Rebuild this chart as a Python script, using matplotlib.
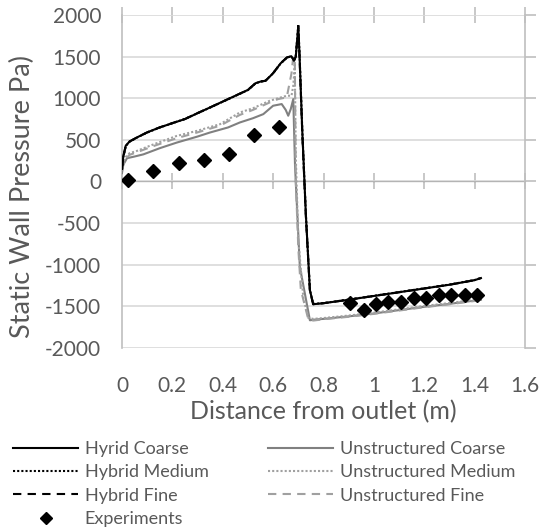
import matplotlib
matplotlib.use("Agg")
import matplotlib.pyplot as plt

# ================= DATA =================
hyb_coarse_x = [0.0, 0.005, 0.015, 0.03, 0.06, 0.1, 0.15, 0.2, 0.25, 0.3, 0.35, 0.4, 0.45, 0.5,
                0.53, 0.55, 0.57, 0.6, 0.63, 0.655, 0.672, 0.683, 0.69, 0.70, 0.705, 0.716, 0.73,
                0.746, 0.759, 0.8, 0.9, 1.0, 1.1, 1.2, 1.3, 1.4, 1.425]
hyb_coarse_y = [150, 300, 430, 480, 530, 590, 650, 700, 750, 820, 890, 960, 1030, 1100,
                1180, 1200, 1210, 1300, 1420, 1490, 1505, 1455, 1500, 1860, 1500, 588, -400,
                -1305, -1474, -1462, -1420, -1375, -1330, -1285, -1240, -1185, -1160]

hyb_medium_x = [0.0, 0.005, 0.015, 0.03, 0.06, 0.1, 0.15, 0.2, 0.25, 0.3, 0.35, 0.4, 0.45, 0.5,
                0.53, 0.55, 0.57, 0.6, 0.63, 0.655, 0.672, 0.683, 0.69, 0.70, 0.705, 0.716, 0.73,
                0.746, 0.759, 0.8, 0.9, 1.0, 1.1, 1.2, 1.3, 1.4, 1.425]
hyb_medium_y = [140, 290, 425, 478, 528, 588, 648, 700, 752, 820, 888, 958, 1028, 1098,
                1178, 1200, 1212, 1300, 1418, 1488, 1503, 1455, 1510, 1890, 1520, 600, -390,
                -1300, -1470, -1460, -1418, -1373, -1328, -1283, -1238, -1183, -1158]

hyb_fine_x = [0.0, 0.005, 0.015, 0.03, 0.06, 0.1, 0.15, 0.2, 0.25, 0.3, 0.35, 0.4, 0.45, 0.5,
              0.53, 0.55, 0.57, 0.6, 0.63, 0.655, 0.672, 0.683, 0.69, 0.70, 0.705, 0.716, 0.73,
              0.746, 0.759, 0.8, 0.9, 1.0, 1.1, 1.2, 1.3, 1.4, 1.425]
hyb_fine_y = [145, 295, 428, 480, 530, 590, 650, 702, 750, 822, 890, 960, 1030, 1100,
              1180, 1200, 1210, 1302, 1420, 1490, 1505, 1450, 1500, 1850, 1480, 560, -420,
              -1310, -1474, -1462, -1420, -1375, -1330, -1285, -1240, -1185, -1160]

uns_coarse_x = [0.0, 0.005, 0.02, 0.05, 0.085, 0.15, 0.217, 0.3, 0.349, 0.421, 0.468, 0.52, 0.561,
                0.6, 0.634, 0.65, 0.66, 0.67, 0.68, 0.687, 0.706, 0.746, 0.76, 0.8, 0.9, 1.0, 1.1,
                1.2, 1.3, 1.4, 1.425]
uns_coarse_y = [100, 200, 280, 300, 326, 400, 467, 540, 588, 649, 709, 760, 809,
                910, 930, 860, 790, 870, 990, 185, -1023, -1667, -1660, -1650, -1620, -1585, -1545,
                -1505, -1470, -1430, -1420]

uns_medium_x = [0.0, 0.01, 0.03, 0.058, 0.12, 0.217, 0.3, 0.389, 0.468, 0.52, 0.587, 0.62, 0.654,
                0.673, 0.68, 0.686, 0.69, 0.70, 0.72, 0.74, 0.76, 0.8, 0.9, 1.0, 1.1, 1.2, 1.3,
                1.4, 1.425]
uns_medium_y = [150, 280, 340, 366, 440, 547, 610, 688, 829, 880, 970, 1000, 1030,
                1030, 1150, 1400, 300, -700, -1400, -1640, -1650, -1640, -1610, -1575, -1535,
                -1495, -1460, -1420, -1410]

uns_fine_x = [0.0, 0.01, 0.03, 0.058, 0.12, 0.217, 0.3, 0.389, 0.468, 0.52, 0.587, 0.62, 0.654,
              0.673, 0.68, 0.686, 0.69, 0.70, 0.71, 0.74, 0.76, 0.8, 0.9, 1.0, 1.1, 1.2, 1.3,
              1.4, 1.425]
uns_fine_y = [130, 260, 320, 350, 420, 520, 590, 670, 800, 860, 950, 990, 1010,
              1300, 1500, 1480, 0, -800, -1300, -1660, -1670, -1655, -1625, -1590, -1550,
              -1510, -1475, -1435, -1425]

exp_x = [0.025, 0.124, 0.226, 0.325, 0.425, 0.525, 0.624,
         0.905, 0.962, 1.01, 1.057, 1.108, 1.159, 1.206, 1.258, 1.308, 1.361, 1.41]
exp_y = [12, 125, 225, 254, 326, 556, 660,
         -1465, -1546, -1474, -1453, -1453, -1401, -1405, -1361, -1361, -1365, -1365]

x_ticks = [0, 0.2, 0.4, 0.6, 0.8, 1.0, 1.2, 1.4, 1.6]
x_tick_labels = ["0", "0.2", "0.4", "0.6", "0.8", "1", "1.2", "1.4", "1.6"]
y_ticks = [-2000, -1500, -1000, -500, 0, 500, 1000, 1500, 2000]

# ================= STYLE =================
plt.rcParams['font.family'] = ['Lato', 'DejaVu Sans']
plt.rcParams['axes.unicode_minus'] = False
TEXT = '#595959'
GRID = '#d9d9d9'
AXIS = '#bfbfbf'
GRAY = '#808080'
LIGHT_GRAY = '#a0a0a0'

fig = plt.figure(figsize=(5.58, 5.31), dpi=100)
ax = fig.add_axes([0.2186, 0.3446, 0.7223, 0.6272])

ax.plot(uns_coarse_x, uns_coarse_y, color=GRAY, lw=1.5, label='Unstructured Coarse', zorder=3)
ax.plot(uns_medium_x, uns_medium_y, color=LIGHT_GRAY, lw=1.5, ls=(0, (1, 1)),
        label='Unstructured Medium', zorder=3)
ax.plot(uns_fine_x, uns_fine_y, color=LIGHT_GRAY, lw=1.5, ls=(0, (4, 3)),
        label='Unstructured Fine', zorder=3)
ax.plot(hyb_fine_x, hyb_fine_y, color='black', lw=1.5, ls=(0, (4, 3)), label='Hybrid Fine', zorder=4)
ax.plot(hyb_medium_x, hyb_medium_y, color='black', lw=1.5, ls=(0, (1, 1)),
        label='Hybrid Medium', zorder=4)
ax.plot(hyb_coarse_x, hyb_coarse_y, color='black', lw=1.5, label='Hyrid Coarse', zorder=4)
ax.plot(exp_x, exp_y, ls='none', marker='D', ms=7.5, color='black', label='Experiments', zorder=5)

ax.set_xlim(0, 1.6)
ax.set_ylim(-2000, 2000)
ax.set_xticks(x_ticks)
ax.set_xticklabels(x_tick_labels)
ax.set_yticks(y_ticks)
ax.yaxis.grid(True, color=GRID, lw=1.2, zorder=0)
ax.set_axisbelow(True)

for side in ['top', 'bottom']:
    ax.spines[side].set_visible(False)
for side in ['left', 'right']:
    ax.spines[side].set_color(AXIS)
    ax.spines[side].set_linewidth(1.2)
ax.tick_params(axis='both', length=0, labelsize=15, labelcolor=TEXT)
ax.tick_params(axis='y', pad=15)
ax.tick_params(axis='x', pad=20)

# horizontal axis crosses at y = 0, with tick marks crossing it
zero_ax = ax.secondary_xaxis(0.5)
zero_ax.set_xticks(x_ticks)
zero_ax.set_xticklabels([])
zero_ax.tick_params(direction='inout', length=12, color=AXIS, width=1.2)
zero_ax.spines['bottom'].set_color(AXIS)
zero_ax.spines['bottom'].set_linewidth(1.2)

top_ax = ax.secondary_xaxis('top')
top_ax.set_xticks(x_ticks)
top_ax.set_xticklabels([])
top_ax.tick_params(direction='inout', length=12, color=AXIS, width=1.2)
top_ax.spines['top'].set_visible(False)

right_ax = ax.secondary_yaxis('right')
right_ax.set_yticks(y_ticks)
right_ax.set_yticklabels([])
right_ax.tick_params(direction='out', length=8, color=AXIS, width=1.2)
right_ax.spines['right'].set_visible(False)

ax.set_xlabel('Distance from outlet (m)', fontsize=18, color=TEXT, labelpad=3)
ax.set_ylabel('Static Wall Pressure Pa)', fontsize=19.5, color=TEXT)
ax.yaxis.set_label_coords(-0.216, 0.456)

handles, labels = ax.get_legend_handles_labels()
order = ['Hyrid Coarse', 'Hybrid Medium', 'Hybrid Fine', 'Experiments',
         'Unstructured Coarse', 'Unstructured Medium', 'Unstructured Fine']
hmap = dict(zip(labels, handles))
leg = fig.legend([hmap[k] for k in order], order, ncol=2, loc='upper left',
                 bbox_to_anchor=(0.008, 0.186), frameon=False, fontsize=13,
                 borderpad=0, handlelength=3.6, handletextpad=0.35, columnspacing=3.3,
                 labelspacing=0.4, markerscale=0.75)
for t in leg.get_texts():
    t.set_color(TEXT)

fig.savefig('out.png', dpi=100)
